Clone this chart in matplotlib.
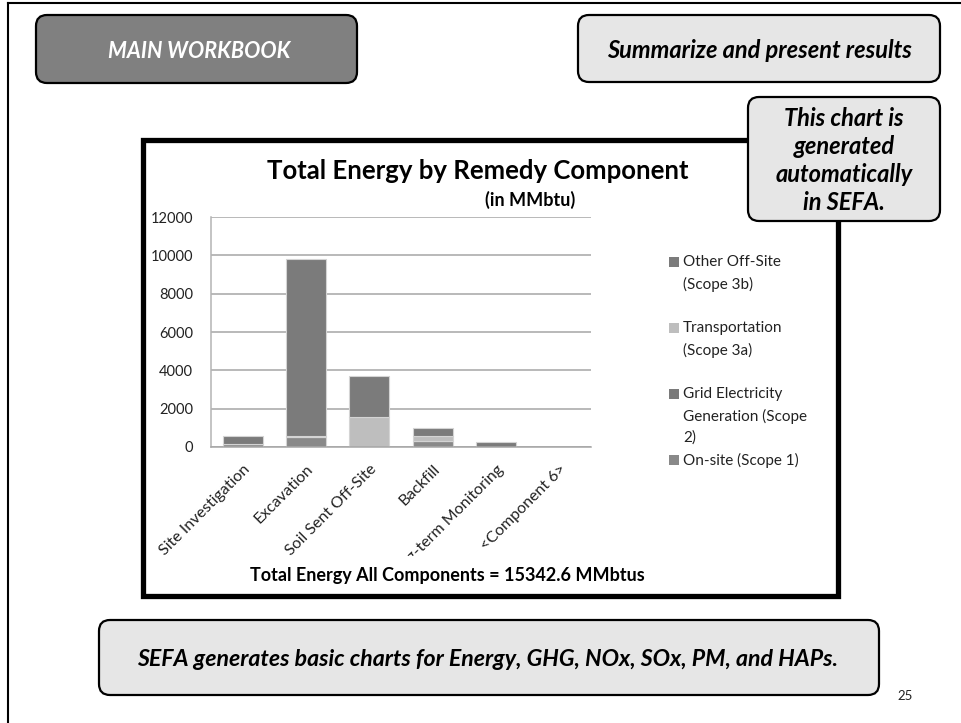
import matplotlib
matplotlib.use("Agg")
import matplotlib.pyplot as plt
from matplotlib.patches import FancyBboxPatch, Rectangle
from matplotlib.transforms import Bbox
import numpy as np

plt.rcParams['font.family'] = ['Lato', 'DejaVu Sans']

# data (MMbtu)
components = ["Site Investigation", "Excavation", "Soil Sent Off-Site",
              "Backfill", "Long-term Monitoring", "<Component 6>"]
onsite = [180, 500, 0, 330, 0, 0]
grid = [0, 0, 0, 0, 0, 0]
transport = [0, 100, 1550, 250, 0, 0]
other = [380, 9200, 2170, 400, 280, 0]
total_all = 15342.6

yticks = [0, 2000, 4000, 6000, 8000, 10000, 12000]

# bottom -> top stacking order, Excel legend lists them reversed
series = [onsite, grid, transport, other]
colors = ['#898989', '#7a7a7a', '#bebebe', '#7b7b7b']
legend_labels = ["On-site (Scope 1)",
                 "Grid Electricity\nGeneration (Scope\n2)",
                 "Transportation\n(Scope 3a)",
                 "Other Off-Site\n(Scope 3b)"]

W, H = 962, 723
fig = plt.figure(figsize=(W / 100, H / 100), dpi=100)

# slide background layer, pixel coordinates
bg = fig.add_axes([0, 0, 1, 1], zorder=0)
bg.set_xlim(0, W)
bg.set_ylim(H, 0)
bg.axis('off')

bg.plot([8, W], [3, 3], color='black', lw=1.5)
bg.plot([8, 8], [3, H], color='black', lw=1.5)


def rbox(ax, x0, y0, x1, y1, face, lw=1.6):
    ax.add_patch(FancyBboxPatch((x0, y0), x1 - x0, y1 - y0,
                                boxstyle="round,pad=0,rounding_size=11",
                                facecolor=face, edgecolor='black', lw=lw))


rbox(bg, 36, 15, 357, 83, '#808080')
bg.text(199, 51, "MAIN WORKBOOK", color='white', fontsize=15.5,
        fontweight='bold', fontstyle='italic', ha='center', va='center')
rbox(bg, 578, 15, 940, 82, '#e6e6e6')
bg.text(759, 51, "Summarize and present results", fontsize=17,
        fontweight='bold', fontstyle='italic', ha='center', va='center')
rbox(bg, 99, 620, 879, 695, '#e6e6e6')
bg.text(488, 659, "SEFA generates basic charts for Energy, GHG, NOx, SOx, PM, and HAPs.",
        fontsize=16.7, fontweight='bold', fontstyle='italic', ha='center', va='center')
bg.text(905, 696, "25", fontsize=9.5, ha='center', va='center', color='#222222')

# chart frame
bg.add_patch(Rectangle((143, 140), 838 - 143, 596 - 140, facecolor='white',
                       edgecolor='black', lw=3.8))
bg.text(478, 171, "Total Energy by Remedy Component", fontsize=18.5,
        fontweight='bold', ha='center', va='center')
bg.text(530, 200, "(in MMbtu)", fontsize=13, fontweight='bold',
        ha='center', va='center')
bg.text(250, 576, f"Total Energy All Components = {total_all} MMbtus",
        fontsize=13, fontweight='bold', ha='left', va='center')

# legend, entries evenly spaced like Excel does
for i, lab in enumerate(legend_labels[::-1]):
    ytop = 262 + 66 * i
    col = colors[::-1][i]
    bg.add_patch(Rectangle((669, ytop - 5), 10, 10, facecolor=col, edgecolor='none'))
    for j, line in enumerate(lab.split('\n')):
        bg.text(683, ytop + 22 * j, line, fontsize=11, ha='left', va='center',
                color='#222222')

# the chart itself
ax = fig.add_axes([211 / W, 1 - 447 / H, 380 / W, (447 - 217) / H], zorder=1)
ax.set_facecolor('none')
x = np.arange(len(components))
bottom = np.zeros(len(components))
for vals, col in zip(series, colors):
    v = np.array(vals, dtype=float)
    ax.bar(x, v, 0.63, bottom=bottom, color=col, edgecolor='#d4d4d4', lw=0.8)
    bottom += v

ax.set_xlim(-0.5, len(components) - 0.5)
ax.set_ylim(0, 12000)
ax.set_yticks(yticks)
ax.set_yticklabels([str(t) for t in yticks], fontsize=10.5, color='#222222')
ax.yaxis.grid(True, color='#a6a6a6', lw=1.1)
ax.set_axisbelow(True)
ax.tick_params(axis='y', length=0, pad=13)
ax.tick_params(axis='x', length=0, pad=11)
for s in ['top', 'right']:
    ax.spines[s].set_visible(False)
ax.spines['left'].set_color('#b4b4b4')
ax.spines['bottom'].set_color('#a6a6a6')
ax.spines['left'].set_linewidth(1.1)
ax.spines['bottom'].set_linewidth(1.1)

ax.set_xticks(x)
ax.set_xticklabels(components, rotation=45, ha='right', va='top',
                   rotation_mode='anchor', fontsize=11.5, color='#222222')
clip = Bbox([[0, H - 556], [W, H]])
for t in ax.get_xticklabels():
    t.set_clip_box(clip)
    t.set_clip_on(True)

# callout box sits over the frame
fg = fig.add_axes([0, 0, 1, 1], zorder=5)
fg.set_xlim(0, W)
fg.set_ylim(H, 0)
fg.axis('off')
fg.patch.set_alpha(0)
rbox(fg, 748, 97, 940, 221, '#e6e6e6')
for k, line in enumerate(["This chart is", "generated", "automatically", "in SEFA."]):
    fg.text(844, 119 + 28 * k, line, fontsize=17, fontweight='bold',
            fontstyle='italic', ha='center', va='center')

fig.savefig('out.png', dpi=100)
